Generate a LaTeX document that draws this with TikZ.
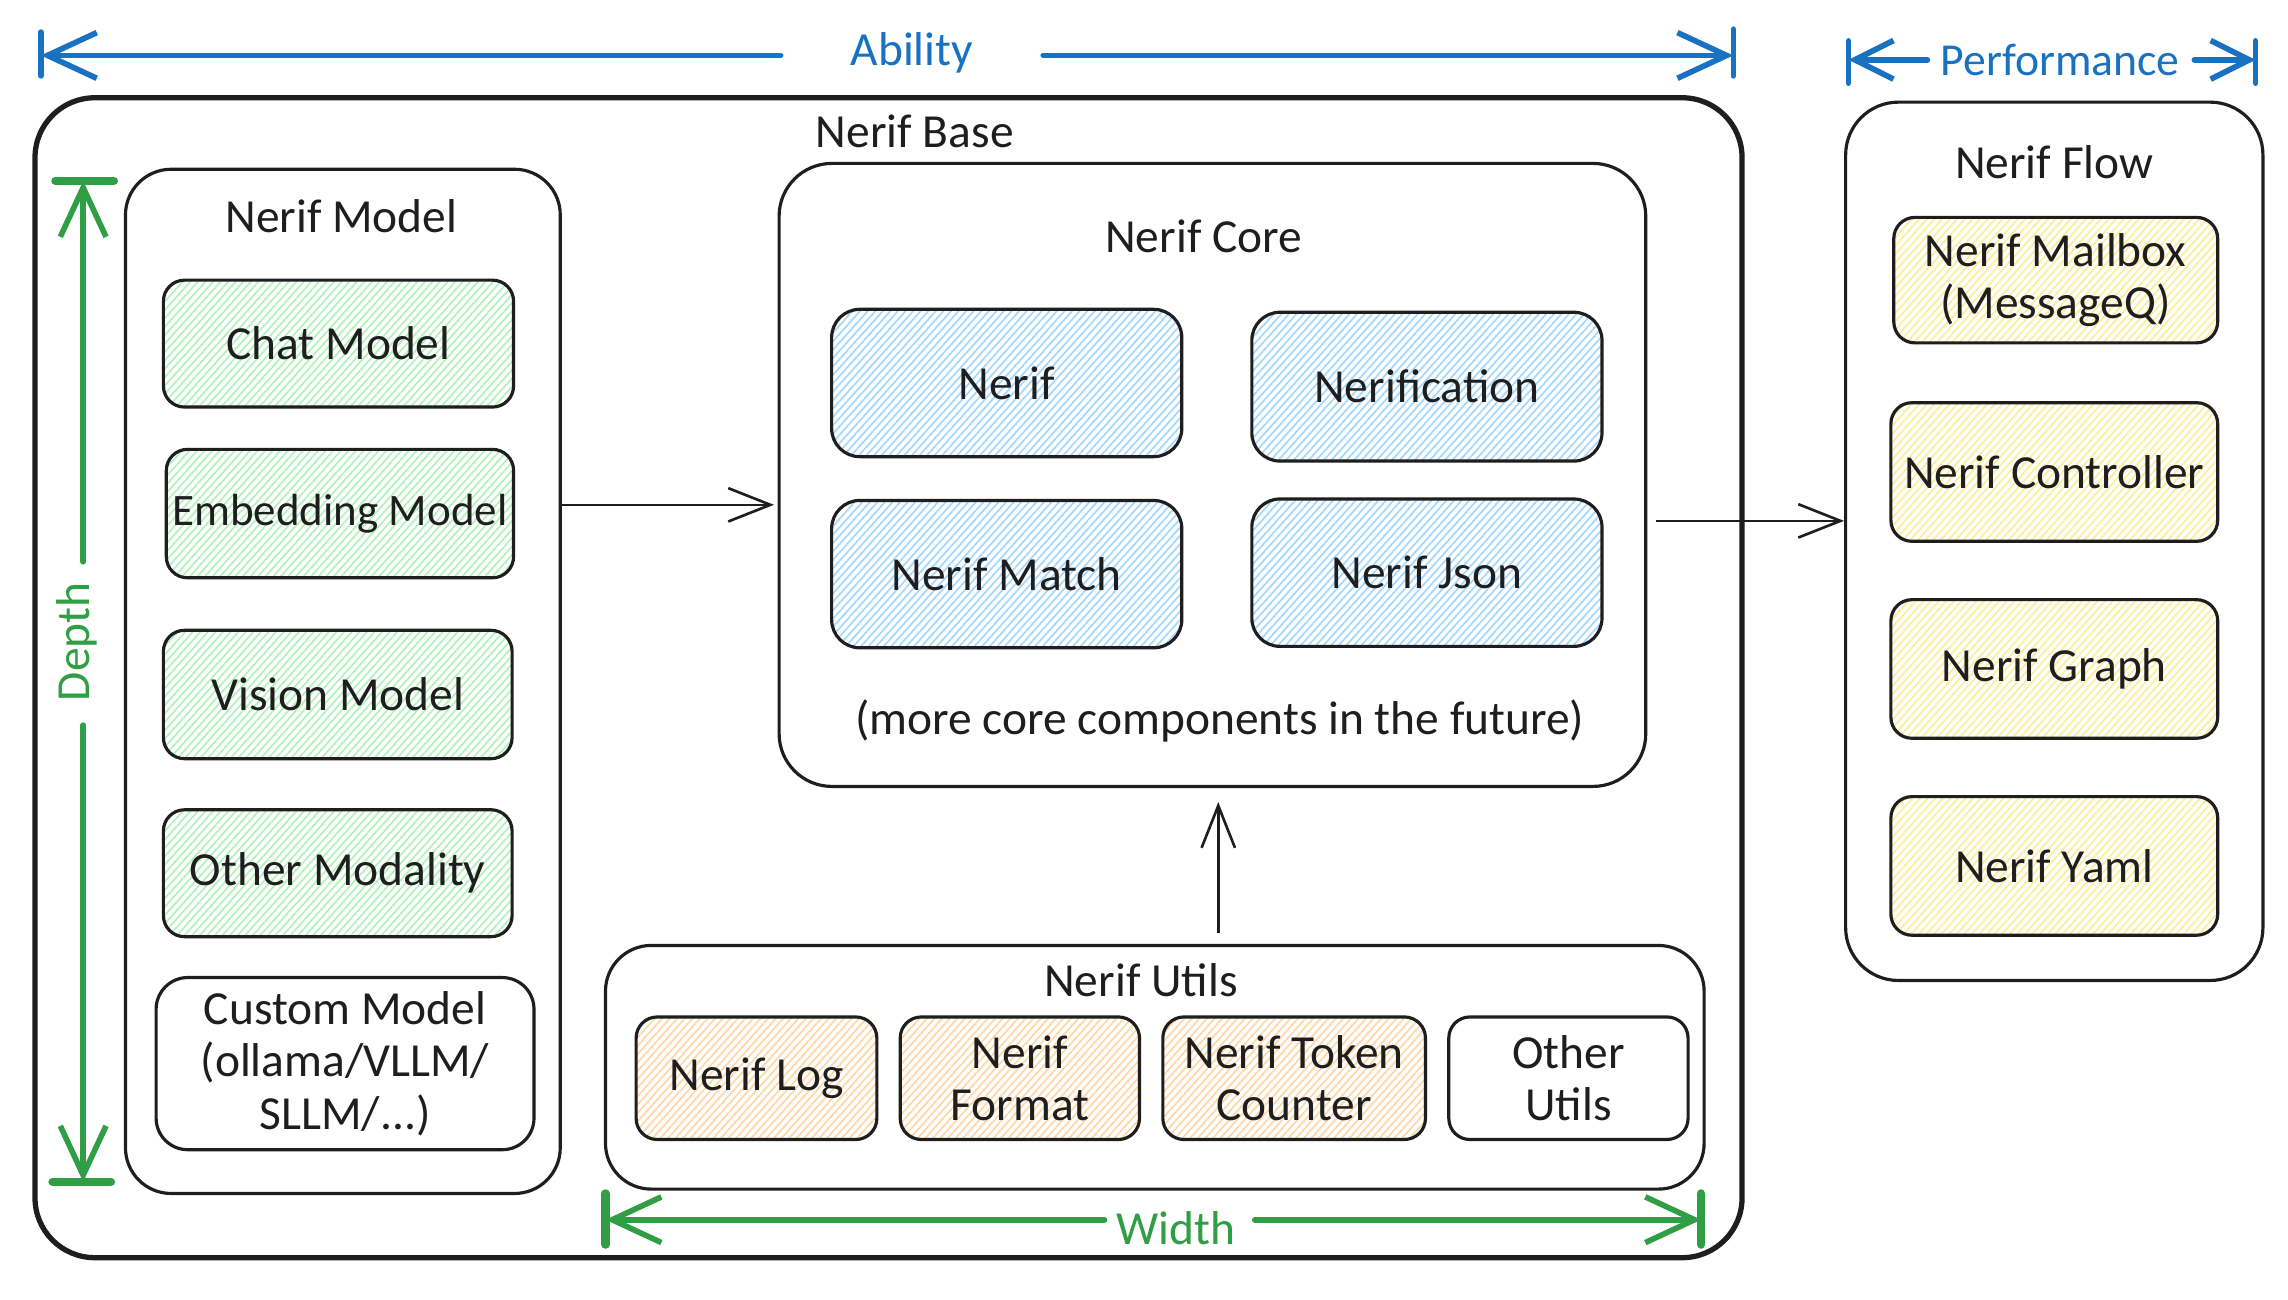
\documentclass[tikz,border=0pt]{standalone}
\usepackage{fontspec}
\setmainfont{Carlito}
\usetikzlibrary{arrows.meta,patterns.meta,fit,calc}
\definecolor{ink}{HTML}{1E1E1E}
\definecolor{eblue}{HTML}{1971C2}
\definecolor{egreen}{HTML}{2F9E44}
\definecolor{hgreen}{HTML}{B2F2BB}
\definecolor{hblue}{HTML}{A5D8FF}
\definecolor{horange}{HTML}{FFD8A8}
\definecolor{hyellow}{HTML}{FFEC99}
\begin{document}
\begin{tikzpicture}[x=0.01459cm,y=-0.01459cm,
  font=\fontsize{13.5}{15}\selectfont,
  txt/.style={inner sep=0pt, text=ink, align=center},
  box/.style={draw=ink, line width=0.9pt, rounded corners=6pt, inner sep=0pt},
  hatch/.style={box, pattern={Lines[angle=48,distance=1.6pt,line width=0.5pt]}, pattern color=#1},
  container/.style={draw=ink, line width=0.9pt, rounded corners=13pt, inner sep=0pt},
  conn/.style={draw=ink, line width=0.75pt, -{Straight Barb[length=12pt,width=9.5pt,line width=0.75pt]}},
  dimline/.style={draw=#1, line width=1.6pt, line cap=round},
  dimtxt/.style={inner sep=0pt, text=#1}
]
\useasboundingbox (0,0) rectangle (1568.2,891);

% ---------- Nerif Base ----------
\node[container, line width=1.5pt, rounded corners=17pt, fit={(24,67)(1194,862)}] (base) {};
\node[txt] (baselbl) at (627,90) {Nerif Base};

% ---------- Nerif Model ----------
\node[container, fit={(86,116)(384,818)}] (model) {};
\node[txt] (modellbl) at (234,148) {Nerif Model};
\node[hatch=hgreen, fit={(112,192)(352,279)}] (chat) {};
\node[txt] at (chat) {Chat Model};
\node[hatch=hgreen, fit={(114,308)(352,396)}] (embed) {};
\node[txt, font=\fontsize{12.8}{15}\selectfont] at (embed) {Embedding Model};
\node[hatch=hgreen, fit={(112,432)(351,520)}] (vision) {};
\node[txt] at (vision) {Vision Model};
\node[hatch=hgreen, fit={(112,555)(351,642)}] (other) {};
\node[txt] at (other) {Other Modality};
\node[box, rounded corners=9pt, fit={(107,670)(366,788)}] (custom) {};
\node[txt] at (custom) {Custom Model\\(ollama/VLLM/\\SLLM/...)};

% ---------- Nerif Core ----------
\node[container, rounded corners=15pt, fit={(534,112)(1128,539)}] (core) {};
\node[txt] (corelbl) at (825,162) {Nerif Core};
\node[hatch=hblue, rounded corners=8pt, fit={(570,212)(810,313)}] (nerif) {};
\node[txt] at (nerif) {Nerif};
\node[hatch=hblue, rounded corners=8pt, fit={(858,214)(1098,316)}] (verif) {};
\node[txt] at (verif) {Nerification};
\node[hatch=hblue, rounded corners=8pt, fit={(570,343)(810,444)}] (match) {};
\node[txt] at (match) {Nerif Match};
\node[hatch=hblue, rounded corners=8pt, fit={(858,342)(1098,443)}] (json) {};
\node[txt] at (json) {Nerif Json};
\node[txt] (future) at (836,494) {(more core components in the future)};

% ---------- Nerif Utils ----------
\node[container, fit={(415,648)(1168,815)}] (utils) {};
\node[txt] (utilslbl) at (782,672) {Nerif Utils};
\node[hatch=horange, fit={(436,697)(601,781)}] (log) {};
\node[txt] at (log) {Nerif Log};
\node[hatch=horange, fit={(617,697)(781,781)}] (format) {};
\node[txt] at (format) {Nerif\\Format};
\node[hatch=horange, fit={(797,697)(977,781)}] (token) {};
\node[txt] at (token) {Nerif Token\\Counter};
\node[box, fit={(993,697)(1157,781)}] (otherutils) {};
\node[txt] at (otherutils) {Other\\Utils};

% ---------- Nerif Flow ----------
\node[container, rounded corners=15pt, fit={(1265,70)(1551,672)}] (flow) {};
\node[txt] (flowlbl) at (1408,111) {Nerif Flow};
\node[hatch=hyellow, fit={(1298,149)(1520,235)}] (mailbox) {};
\node[txt] at (mailbox) {Nerif Mailbox\\(MessageQ)};
\node[hatch=hyellow, fit={(1296,276)(1520,371)}] (ctrl) {};
\node[txt] at (ctrl) {Nerif Controller};
\node[hatch=hyellow, fit={(1296,411)(1520,506)}] (graph) {};
\node[txt] at (graph) {Nerif Graph};
\node[hatch=hyellow, fit={(1296,546)(1520,641)}] (yaml) {};
\node[txt] at (yaml) {Nerif Yaml};

% ---------- connectors ----------
\coordinate (r1) at (0,346);
\coordinate (r2) at (0,357);
\coordinate (c1) at (835,0);
\draw[conn] (model.east |- r1) -- ([xshift=-1pt]core.west |- r1);
\draw[conn] ([xshift=2.5pt]core.east |- r2) -- (flow.west |- r2);
\draw[conn, shorten <=3pt, shorten >=4pt] (utils.north -| c1) -- (core.south -| c1);

% ---------- Ability ----------
\node[dimtxt=eblue] (ability) at (625,36) {Ability};
\coordinate (abL) at (28,38); \coordinate (abR) at (1188,38);
\coordinate (abL2) at (535,38); \coordinate (abR2) at (715,38);
\draw[dimline=eblue, {Straight Barb[length=14pt,width=13pt,line width=1.6pt]}-] (abL) -- (abL2);
\draw[dimline=eblue, -{Straight Barb[length=14pt,width=13pt,line width=1.6pt]}] (abR2) -- (abR);
\draw[dimline=eblue] (28,22) -- (28,52);
\draw[dimline=eblue] (1188,20) -- (1188,52);

% ---------- Performance ----------
\node[dimtxt=eblue, font=\fontsize{13}{15}\selectfont] (perf) at (1412,41) {Performance};
\coordinate (pL) at (1267,41); \coordinate (pR) at (1546,41);
\coordinate (pL2) at (1321,41); \coordinate (pR2) at (1504,41);
\draw[dimline=eblue, {Straight Barb[length=11pt,width=11pt,line width=1.6pt]}-] (pL) -- (pL2);
\draw[dimline=eblue, -{Straight Barb[length=11pt,width=11pt,line width=1.6pt]}] (pR2) -- (pR);
\draw[dimline=eblue] (1267,28) -- (1267,57);
\draw[dimline=eblue] (1546,28) -- (1546,57);

% ---------- Depth ----------
\node[dimtxt=egreen, rotate=90] (depth) at (53,440) {Depth};
\coordinate (dT) at (57,124); \coordinate (dB) at (57,810);
\coordinate (dT2) at (57,385); \coordinate (dB2) at (57,497);
\draw[dimline=egreen, -{Straight Barb[length=14pt,width=13pt,line width=1.6pt]}] (dT2) -- (dT);
\draw[dimline=egreen, -{Straight Barb[length=14pt,width=13pt,line width=1.6pt]}] (dB2) -- (dB);
\draw[dimline=egreen, line width=2.4pt] (38,124) -- (78,124);
\draw[dimline=egreen, line width=2.4pt] (36,810) -- (76,810);

% ---------- Width ----------
\node[dimtxt=egreen] (width) at (806,842) {Width};
\coordinate (wL) at (415,836); \coordinate (wR) at (1166,836);
\coordinate (wL2) at (757,836); \coordinate (wR2) at (860,836);
\draw[dimline=egreen, {Straight Barb[length=14pt,width=13pt,line width=1.6pt]}-] (wL) -- (wL2);
\draw[dimline=egreen, -{Straight Barb[length=14pt,width=13pt,line width=1.6pt]}] (wR2) -- (wR);
\draw[dimline=egreen, line width=2.4pt] (415,818) -- (415,853);
\draw[dimline=egreen, line width=2.4pt] (1166,818) -- (1166,853);
\end{tikzpicture}
\end{document}
